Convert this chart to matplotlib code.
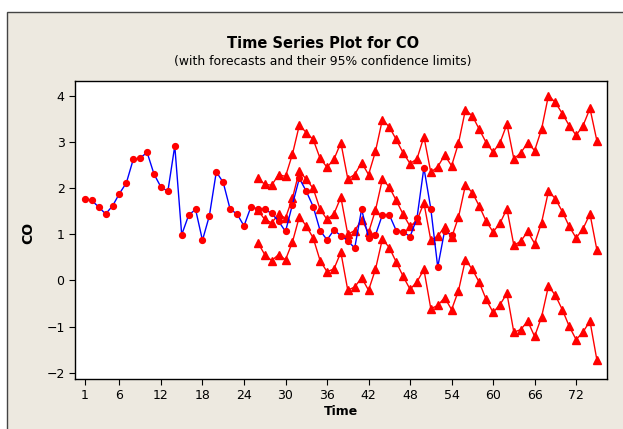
import matplotlib.pyplot as plt
from matplotlib.patches import Rectangle

# observed CO series, t = 1..54
obs_t = list(range(1, 55))
obs_co = [1.77, 1.73, 1.59, 1.44, 1.61, 1.88, 2.11, 2.62, 2.65, 2.77,
          2.30, 2.02, 1.93, 2.91, 0.99, 1.41, 1.54, 0.87, 1.40, 2.35,
          2.12, 1.54, 1.44, 1.18, 1.59, 1.55, 1.54, 1.45, 1.28, 1.06,
          1.64, 2.21, 1.93, 1.60, 1.08, 0.88, 1.09, 0.97, 0.86, 0.70,
          1.54, 0.92, 0.98, 1.42, 1.42, 1.08, 1.05, 0.95, 1.35, 2.44,
          1.55, 0.29, 1.08, 0.98]

# forecasts and 95% limits, t = 26..75
fc_t = list(range(26, 76))
forecast = [1.52, 1.32, 1.25, 1.43, 1.35, 1.78, 2.37, 2.19, 1.99, 1.54,
            1.32, 1.44, 1.80, 1.00, 1.08, 1.31, 1.04, 1.52, 2.19, 2.02,
            1.73, 1.43, 1.17, 1.30, 1.68, 0.87, 0.96, 1.16, 0.93, 1.37,
            2.06, 1.90, 1.61, 1.28, 1.05, 1.24, 1.55, 0.76, 0.85, 1.06,
            0.80, 1.25, 1.93, 1.77, 1.49, 1.17, 0.92, 1.12, 1.44, 0.66]
upper = [2.21, 2.08, 2.06, 2.29, 2.25, 2.73, 3.36, 3.20, 3.05, 2.64,
         2.45, 2.62, 2.98, 2.20, 2.29, 2.55, 2.29, 2.79, 3.48, 3.32,
         3.05, 2.76, 2.53, 2.63, 3.11, 2.34, 2.46, 2.71, 2.48, 2.97,
         3.69, 3.56, 3.27, 2.98, 2.78, 2.98, 3.38, 2.63, 2.76, 2.98,
         2.81, 3.27, 4.00, 3.85, 3.61, 3.35, 3.14, 3.35, 3.72, 3.02]
lower = [0.82, 0.56, 0.43, 0.56, 0.45, 0.83, 1.38, 1.18, 0.92, 0.43,
         0.19, 0.25, 0.61, -0.21, -0.14, 0.06, -0.21, 0.24, 0.90, 0.71,
         0.40, 0.09, -0.19, -0.03, 0.24, -0.61, -0.54, -0.37, -0.63, -0.22,
         0.45, 0.24, -0.04, -0.41, -0.69, -0.52, -0.28, -1.12, -1.06, -0.88,
         -1.21, -0.79, -0.12, -0.32, -0.63, -0.99, -1.28, -1.11, -0.88, -1.72]

x_ticks = [1, 6, 12, 18, 24, 30, 36, 42, 48, 54, 60, 66, 72]
y_ticks = [-2, -1, 0, 1, 2, 3, 4]

W, H = 623, 429
fig = plt.figure(figsize=(W / 100, H / 100), dpi=100)
fig.patch.set_facecolor('white')
bg = Rectangle((7 / W, -0.1), 1.0, 1.1 - 12 / H, transform=fig.transFigure,
               facecolor='#EDE9E0', edgecolor='#444444', lw=1.0, zorder=-10)
fig.patches.append(bg)

ax = fig.add_axes([75 / W, 1 - 379 / H, 532 / W, 298 / H])
ax.set_facecolor('white')

ax.plot(obs_t, obs_co, color='#0000FF', lw=1.0, marker='o', ms=4.2,
        mfc='#FF0000', mec='#FF0000', zorder=3)
for s in (forecast, upper, lower):
    ax.plot(fc_t, s, color='#FF0000', lw=1.0, marker='^', ms=5.6,
            mfc='#FF0000', mec='#FF0000', zorder=2)

ax.set_xlim(-0.42, 76.46)
ax.set_ylim(-2.13, 4.314)
ax.set_xticks(x_ticks)
ax.set_yticks(y_ticks)
ax.tick_params(labelsize=9, length=4, width=0.8, direction='out', colors='black')
for sp in ax.spines.values():
    sp.set_linewidth(1.0)

ax.set_xlabel('Time', fontsize=9, fontweight='bold', labelpad=2)
ax.set_ylabel('CO', fontsize=10, fontweight='bold')
ax.yaxis.set_label_coords(-0.075, 0.49)

fig.text(323 / W, 1 - 43 / H, 'Time Series Plot for CO', ha='center', va='center',
         fontsize=10.5, fontweight='bold')
fig.text(323 / W, 1 - 62 / H, '(with forecasts and their 95% confidence limits)',
         ha='center', va='center', fontsize=8.9)

fig.savefig('out.png', dpi=100)
